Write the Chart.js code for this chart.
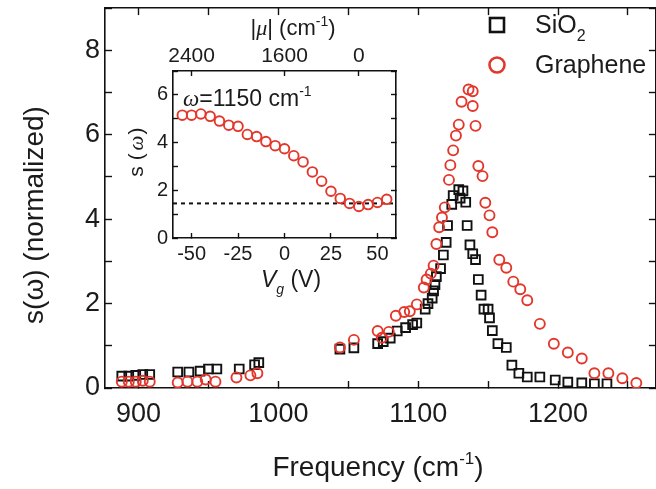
<!DOCTYPE html>
<html>
<head>
<meta charset="utf-8">
<title>s(w) spectra</title>
<script src="https://cdn.jsdelivr.net/npm/chart.js@4.4.1/dist/chart.umd.min.js"></script>
<style>
  html, body { margin: 0; padding: 0; background: #fff; }
  #wrap { position: relative; width: 656px; height: 489px; overflow: hidden; }
  #main { position: absolute; left: 0; top: 0; }
  #inset { position: absolute; left: 100px; top: 0; }
</style>
</head>
<body>
<div id="wrap">
  <canvas id="main" width="664" height="489"></canvas>
  <canvas id="inset" width="320" height="300"></canvas>
</div>
<script>
"use strict";

// Main panel: SiO2 (squares)
var sio2Freq = [888, 893, 898, 903, 908, 928, 936, 944, 950, 956, 972, 983, 986,
    1044, 1054, 1071, 1075, 1080, 1085, 1091, 1096, 1099, 1105, 1107, 1110, 1111, 1112, 1113,
    1116, 1118, 1120, 1121, 1124, 1125, 1129, 1130, 1132, 1134, 1135, 1137, 1139, 1141, 1143,
    1145, 1147, 1150, 1151, 1153, 1157, 1163, 1167, 1172, 1178, 1187, 1198, 1207, 1217, 1226, 1235];
var sio2S = [0.28, 0.28, 0.3, 0.32, 0.32, 0.38, 0.38, 0.4, 0.45, 0.45, 0.45, 0.55, 0.6,
    0.92, 0.95, 1.05, 1.1, 1.18, 1.35, 1.43, 1.5, 1.54, 1.87, 2.0, 2.13, 2.3, 2.45, 2.64,
    2.83, 3.15, 3.45, 3.85, 4.35, 4.56, 4.7, 4.5, 4.67, 4.4, 3.85, 3.39, 3.18, 3.04, 2.57,
    2.2, 1.87, 1.87, 1.66, 1.36, 1.05, 0.96, 0.54, 0.35, 0.26, 0.26, 0.19, 0.14, 0.12, 0.1, 0.1];

// Main panel: Graphene (circles)
var grapFreq = [888, 893, 898, 903, 908, 928, 935, 942, 948, 955, 970, 980, 985,
    1044, 1054, 1071, 1074, 1079, 1084, 1090, 1094, 1099, 1104, 1106, 1109, 1111, 1113, 1115,
    1117, 1119, 1122, 1123, 1125, 1127, 1129, 1131, 1136, 1139, 1139, 1141, 1143, 1146, 1148,
    1151, 1153, 1158, 1163, 1168, 1173, 1178, 1187, 1197, 1207, 1217, 1226, 1236, 1246, 1256];
var grapS = [0.15, 0.15, 0.15, 0.17, 0.15, 0.13, 0.15, 0.15, 0.2, 0.15, 0.25, 0.3, 0.35,
    0.96, 1.14, 1.35, 1.19, 1.33, 1.71, 1.8, 1.82, 1.98, 2.38, 2.57, 2.71, 2.9, 3.41, 3.81,
    4.04, 4.28, 4.93, 5.28, 5.63, 5.98, 6.24, 6.78, 7.07, 7.03, 6.68, 6.21, 5.26, 5.02, 4.39,
    4.09, 3.69, 3.04, 2.85, 2.52, 2.34, 2.08, 1.52, 1.05, 0.84, 0.7, 0.35, 0.35, 0.23, 0.12];

// Inset: s(w) at 1150 cm-1 vs gate voltage
var gateV = [-55, -50, -45, -40, -35, -30, -25, -20, -15, -10, -5, 0, 5, 10, 15, 20, 25, 30, 35, 40, 45, 50, 55];
var insetS = [5.15, 5.15, 5.2, 5.1, 4.9, 4.73, 4.68, 4.34, 4.25, 4.04, 3.87, 3.74, 3.45, 3.19,
    2.77, 2.38, 1.96, 1.66, 1.45, 1.32, 1.4, 1.49, 1.62];
var sio2Level = 1.45;

// Axes
var freqRange = [876, 1270];
var freqTicks = [900, 950, 1000, 1050, 1100, 1150, 1200, 1250];
var sRange = [0, 9];
var sTicks = [0, 1, 2, 3, 4, 5, 6, 7, 8, 9];
var gateRange = [-60, 60];
var gateTicks = [-50, -25, 0, 25, 50];
var insetRange = [0, 7];
var insetTicks = [0, 1, 2, 3, 4, 5, 6, 7];
var muTickVg = [-50, 0, 40];
var muTickLabels = ['2400', '1600', '0'];

var FONT = "'Liberation Sans', Arial, sans-serif";
var SERIF = "'Liberation Serif', 'Times New Roman', serif";
var RED = '#e3372c';
var INK = '#1b1b1b';

function pts(xs, ys) {
    return xs.map(function (x, i) { return {x: x, y: ys[i]}; });
}

function fixedTicks(values) {
    return function (scale) {
        scale.ticks = values.map(function (v) { return {value: v}; });
    };
}

function fontFor(p, size) {
    var s = (p.sup || p.sub) ? Math.round(size * 0.62) : size;
    return (p.italic ? 'italic ' : '') + s + 'px ' + (p.serif ? SERIF : FONT);
}

// text with super/subscripts
function richText(ctx, parts, x, y, size, align) {
    var w = 0;
    parts.forEach(function (p) {
        ctx.font = fontFor(p, size);
        p.w = ctx.measureText(p.t).width;
        w += p.w;
    });
    var cx = align === 'center' ? x - w / 2 : x;
    ctx.textAlign = 'left';
    ctx.textBaseline = 'alphabetic';
    parts.forEach(function (p) {
        ctx.font = fontFor(p, size);
        var dy = p.sup ? -size * 0.42 : (p.sub ? size * 0.3 : 0);
        ctx.fillText(p.t, cx, y + dy);
        cx += p.w;
    });
}

function axis(pos, range, ticks, opts) {
    opts = opts || {};
    return {
        type: 'linear',
        position: pos,
        min: range[0],
        max: range[1],
        afterBuildTicks: fixedTicks(ticks),
        afterFit: function (scale) {
            if (pos === 'left' || pos === 'right') scale.width = opts.size;
            else scale.height = opts.size;
            // no extra room for half labels at the ends
            scale.paddingLeft = scale.paddingRight = 0;
            scale.paddingTop = scale.paddingBottom = 0;
        },
        ticks: {
            display: !!opts.label,
            autoSkip: false,
            maxRotation: 0,
            padding: opts.padding || 0,
            color: INK,
            font: {family: FONT, size: opts.font || 20},
            callback: opts.label || function () { return ''; }
        },
        grid: {
            drawOnChartArea: false,
            drawTicks: true,
            tickLength: opts.tick || -7,
            tickWidth: 1.4,
            tickColor: '#111'
        },
        border: {display: true, color: '#111', width: 1.6}
    };
}

// Main chart
var mainText = {
    id: 'mainText',
    afterDraw: function (chart) {
        var ctx = chart.ctx;
        ctx.save();
        ctx.fillStyle = INK;

        // y title
        ctx.save();
        ctx.translate(35, 215);
        ctx.rotate(-Math.PI / 2);
        ctx.font = '28px ' + FONT;
        ctx.textAlign = 'center';
        ctx.textBaseline = 'middle';
        ctx.fillText('s(\u03c9) (normalized)', 0, 0);
        ctx.restore();

        // x title
        richText(ctx, [{t: 'Frequency (cm'}, {t: '-1', sup: true}, {t: ')'}], 378, 476, 28, 'center');

        // legend
        ctx.lineWidth = 2.6;
        ctx.strokeStyle = '#111';
        ctx.strokeRect(490, 18, 14, 14);
        richText(ctx, [{t: 'SiO'}, {t: '2', sub: true}], 535, 33, 25, 'left');
        ctx.strokeStyle = RED;
        ctx.beginPath();
        ctx.arc(497, 65, 7.5, 0, Math.PI * 2);
        ctx.stroke();
        richText(ctx, [{t: 'Graphene'}], 535, 73, 25, 'left');
        ctx.restore();
    }
};

new Chart(document.getElementById('main'), {
    type: 'scatter',
    data: {
        datasets: [{
            label: 'SiO2',
            data: pts(sio2Freq, sio2S),
            pointStyle: 'rect',
            pointRadius: 6.2,
            borderWidth: 1.9,
            borderColor: '#111',
            backgroundColor: 'rgba(0,0,0,0)',
            order: 1
        }, {
            label: 'Graphene',
            data: pts(grapFreq, grapS),
            pointStyle: 'circle',
            pointRadius: 5,
            borderWidth: 1.9,
            borderColor: RED,
            backgroundColor: 'rgba(0,0,0,0)',
            order: 0
        }]
    },
    options: {
        responsive: false,
        animation: false,
        // right edge sits just past the visible window, as in the cropped figure
        layout: {padding: {top: 3, left: 0, right: 7, bottom: 0}},
        plugins: {legend: {display: false}, tooltip: {enabled: false}},
        scales: {
            x: axis('bottom', freqRange, freqTicks, {
                size: 101, font: 27, padding: 17,
                label: function (v) { return v % 100 === 0 ? v : ''; }
            }),
            x2: axis('top', freqRange, freqTicks, {size: 0}),
            y: axis('left', sRange, sTicks, {
                size: 105, font: 27, padding: 12,
                label: function (v) { return v % 2 === 0 ? v : ''; }
            }),
            y2: axis('right', sRange, sTicks, {size: 0})
        }
    },
    plugins: [mainText]
});

// Inset chart
var insetText = {
    id: 'insetText',
    beforeDraw: function (chart) {
        var a = chart.chartArea, ctx = chart.ctx;
        ctx.save();
        ctx.fillStyle = '#fff';
        ctx.fillRect(a.left, a.top, a.right - a.left, a.bottom - a.top);
        ctx.restore();
    },
    afterDraw: function (chart) {
        var ctx = chart.ctx;
        ctx.save();
        ctx.fillStyle = INK;
        richText(ctx, [{t: '|'}, {t: '\u03bc', italic: true, serif: true}, {t: '| (cm'}, {t: '-1', sup: true}, {t: ')'}], 193, 35, 22, 'center');
        richText(ctx, [{t: '\u03c9', italic: true, serif: true}, {t: '=1150 cm'}, {t: '-1', sup: true}], 83, 106, 23, 'left');
        richText(ctx, [{t: 'V', italic: true}, {t: 'g', sub: true, italic: true}, {t: ' (V)'}], 191, 287, 23, 'center');

        ctx.save();
        ctx.translate(37, 157);
        ctx.rotate(-Math.PI / 2);
        ctx.font = '21px ' + FONT;
        ctx.textAlign = 'center';
        ctx.textBaseline = 'middle';
        ctx.fillText('s (', -8, 0);
        ctx.font = 'italic 21px ' + SERIF;
        ctx.fillText('\u03c9', 14, 0);
        ctx.font = '21px ' + FONT;
        ctx.fillText(')', 26, 0);
        ctx.restore();
        ctx.restore();
    }
};

new Chart(document.getElementById('inset'), {
    type: 'scatter',
    data: {
        datasets: [{
            label: 'w = 1150',
            data: pts(gateV, insetS),
            pointStyle: 'circle',
            pointRadius: 4.8,
            borderWidth: 1.9,
            borderColor: RED,
            backgroundColor: 'rgba(0,0,0,0)',
            order: 0
        }, {
            type: 'line',
            label: 'SiO2 level',
            data: pts(gateRange, [sio2Level, sio2Level]),
            borderColor: '#111',
            borderWidth: 2,
            borderDash: [4, 4],
            pointRadius: 0,
            order: 1
        }]
    },
    options: {
        responsive: false,
        animation: false,
        layout: {padding: {top: 0, left: 0, right: 24, bottom: 0}},
        plugins: {legend: {display: false}, tooltip: {enabled: false}},
        scales: {
            x: axis('bottom', gateRange, gateTicks, {
                size: 62, font: 20, padding: 9, tick: -5,
                label: function (v) { return v; }
            }),
            x2: axis('top', gateRange, muTickVg, {
                size: 71, font: 21, padding: 7, tick: -5,
                label: function (v, i) { return muTickLabels[i]; }
            }),
            y: axis('left', insetRange, insetTicks, {
                size: 73, font: 20, padding: 10, tick: -5,
                label: function (v) { return v % 2 === 0 ? v : ''; }
            }),
            y2: axis('right', insetRange, insetTicks, {size: 0, tick: -5})
        }
    },
    plugins: [insetText]
});
</script>
</body>
</html>
